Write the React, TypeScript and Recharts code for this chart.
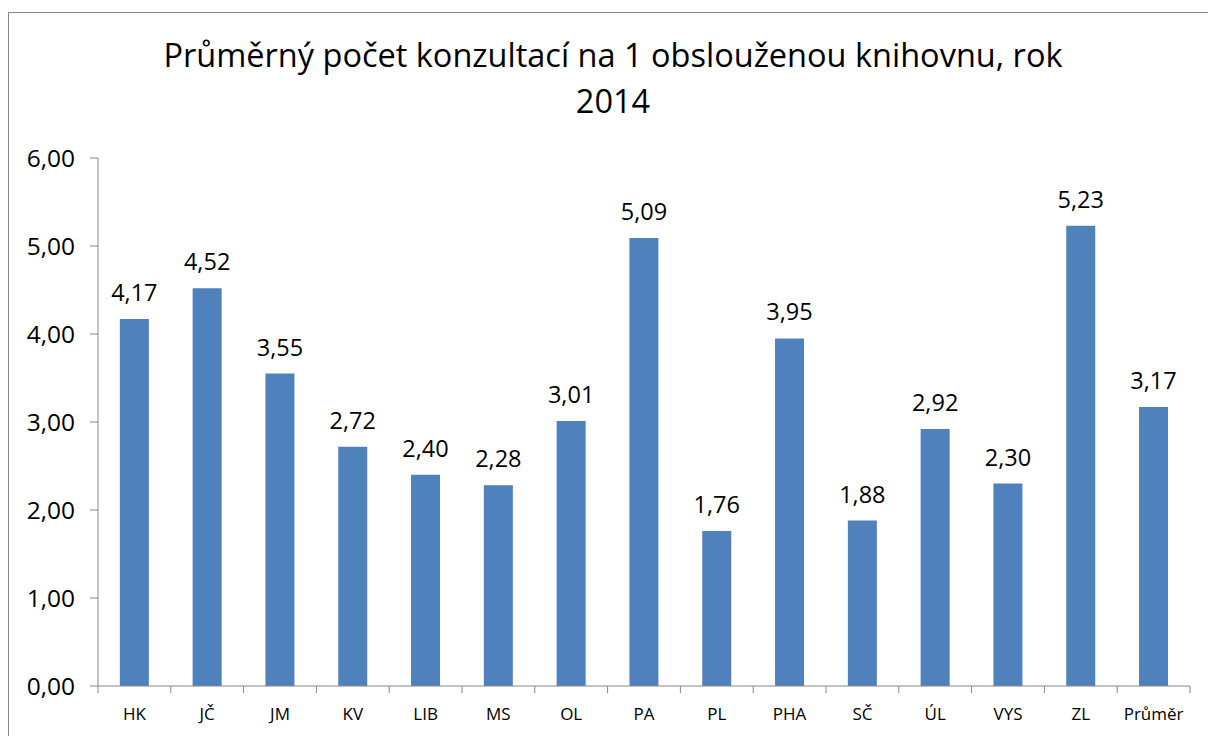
import { Bar, BarChart, LabelList, XAxis, YAxis } from "recharts";

const regions = ["HK", "JČ", "JM", "KV", "LIB", "MS", "OL", "PA", "PL", "PHA", "SČ", "ÚL", "VYS", "ZL", "Průměr"];
const consultations = [4.17, 4.52, 3.55, 2.72, 2.4, 2.28, 3.01, 5.09, 1.76, 3.95, 1.88, 2.92, 2.3, 5.23, 3.17];
const yTicks = [0, 1, 2, 3, 4, 5, 6];
const titleLines = ["Průměrný počet konzultací na 1 obslouženou knihovnu, rok", "2014"];

const data = regions.map((name, i) => ({ name, value: consultations[i] }));

const cz = (v: number) => Number(v).toFixed(2).replace(".", ",");
const font = "'Open Sans', sans-serif";
const axisGray = "#868686";

// category label plus tick marks on the band edges
function RegionTick(props: any) {
  const { x, y, payload, index } = props;
  const half = payload.offset ?? 0;
  const last = index === regions.length - 1;
  return (
    <g>
      <line x1={x - half} x2={x - half} y1={y} y2={y + 7} stroke={axisGray} />
      {last && <line x1={x + half} x2={x + half} y1={y} y2={y + 7} stroke={axisGray} />}
      <text x={x} y={y + 34} textAnchor="middle" fill="#000" fontSize={17} fontFamily={font}>
        {payload.value}
      </text>
    </g>
  );
}

export default function App() {
  return (
    <div
      style={{
        position: "fixed",
        left: 8,
        top: 12,
        width: 1200,
        height: 724,
        overflow: "hidden",
      }}
    >
      <div
        style={{
          position: "absolute",
          left: 0,
          top: 0,
          width: 1300,
          height: 800,
          border: "1px solid #888",
          background: "#fff",
          fontFamily: font,
        }}
      >
        <div
          style={{
            position: "absolute",
            left: 0,
            top: 19,
            width: 1208,
            textAlign: "center",
            fontSize: 32.5,
            lineHeight: "46px",
            color: "#000",
          }}
        >
          {titleLines.map((t) => (
            <div key={t}>{t}</div>
          ))}
        </div>
        <BarChart
          width={1210}
          height={730}
          data={data}
          margin={{ top: 145, right: 29, bottom: 27, left: 0 }}
          barCategoryGap="30%"
        >
          <XAxis
            dataKey="name"
            height={30}
            tickLine={false}
            tickSize={0}
            tickMargin={0}
            axisLine={{ stroke: axisGray }}
            interval={0}
            tick={<RegionTick />}
          />
          <YAxis
            domain={[0, 6]}
            ticks={yTicks}
            tickFormatter={cz}
            width={89}
            tickSize={8}
            tickMargin={15}
            axisLine={{ stroke: axisGray }}
            tickLine={{ stroke: axisGray }}
            tick={{ fill: "#000", fontSize: 24.5, fontFamily: font }}
          />
          <Bar dataKey="value" fill="#4F81BD" isAnimationActive={false}>
            <LabelList
              dataKey="value"
              position="top"
              offset={18}
              formatter={(v: number) => cz(v)}
              style={{ fill: "#000", fontSize: 23.5, fontFamily: font }}
            />
          </Bar>
        </BarChart>
      </div>
    </div>
  );
}
